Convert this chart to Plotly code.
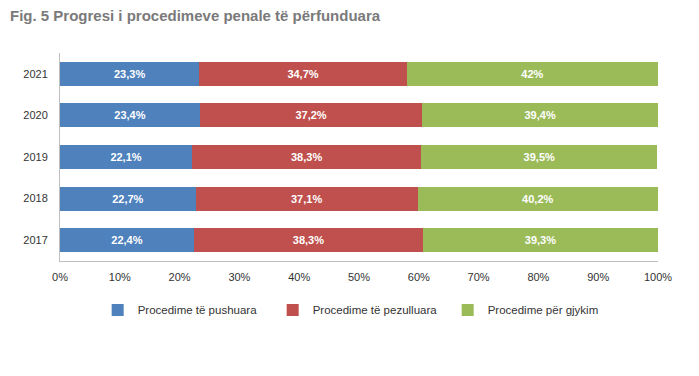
import plotly.graph_objects as go

years = ["2017", "2018", "2019", "2020", "2021"]
series_names = ["Procedime të pushuara", "Procedime të pezulluara", "Procedime për gjykim"]
pushuara = [22.4, 22.7, 22.1, 23.4, 23.3]
pezulluara = [38.3, 37.1, 38.3, 37.2, 34.7]
gjykim = [39.3, 40.2, 39.5, 39.4, 42.0]
colors = ["#4F81BD", "#C0504D", "#9BBB59"]
x_ticks = [0, 10, 20, 30, 40, 50, 60, 70, 80, 90, 100]


def lab(v):
    return (("%g" % v).replace(".", ",")) + "%"


fig = go.Figure()
for name, vals, c in zip(series_names, [pushuara, pezulluara, gjykim], colors):
    fig.add_trace(go.Bar(
        y=years, x=vals, name=name, orientation="h",
        marker=dict(color=c, line=dict(width=0)),
        text=["<b>" + lab(v) + "</b>" for v in vals], textposition="inside",
        insidetextanchor="middle",
        textfont=dict(color="white", size=11,
                      family="Liberation Sans Narrow, Liberation Sans"),
        hoverinfo="skip",
    ))

fig.update_layout(
    barmode="stack",
    bargap=0.42,
    width=699, height=376,
    margin=dict(l=52, r=49, t=45, b=123, autoexpand=False),
    paper_bgcolor="white", plot_bgcolor="white",
    font=dict(family="Liberation Sans", size=11, color="#333333"),
    title=dict(text="<b>Fig. 5 Progresi i procedimeve penale të përfunduara</b>",
               x=2/699, xref="container", xanchor="left", y=0.993, yanchor="top",
               font=dict(family="Liberation Sans", size=15, color="#7A7A7A"),
               pad=dict(l=0, t=0)),
    legend=dict(orientation="h", xref="paper", x=0.063, xanchor="left",
                y=-0.235, yanchor="middle",
                font=dict(size=11.5, color="#333333"), traceorder="normal",
                itemwidth=30, entrywidth=130),
    uniformtext=dict(minsize=8, mode="show"),
)
fig.update_xaxes(range=[0, 100], tickvals=x_ticks, ticktext=[f"{t}%" for t in x_ticks],
                 showgrid=False, zeroline=False, showline=True, linecolor="#BFBFBF",
                 linewidth=1, ticks="", tickfont=dict(size=11, color="#333333"),
                 ticklabelstandoff=6, automargin=False)
fig.update_yaxes(showgrid=False, zeroline=False, showline=True, linecolor="#BFBFBF",
                 linewidth=1, ticks="", ticklabelstandoff=9, automargin=False,
                 tickfont=dict(size=11, color="#333333"))

fig.write_html("out.html")
